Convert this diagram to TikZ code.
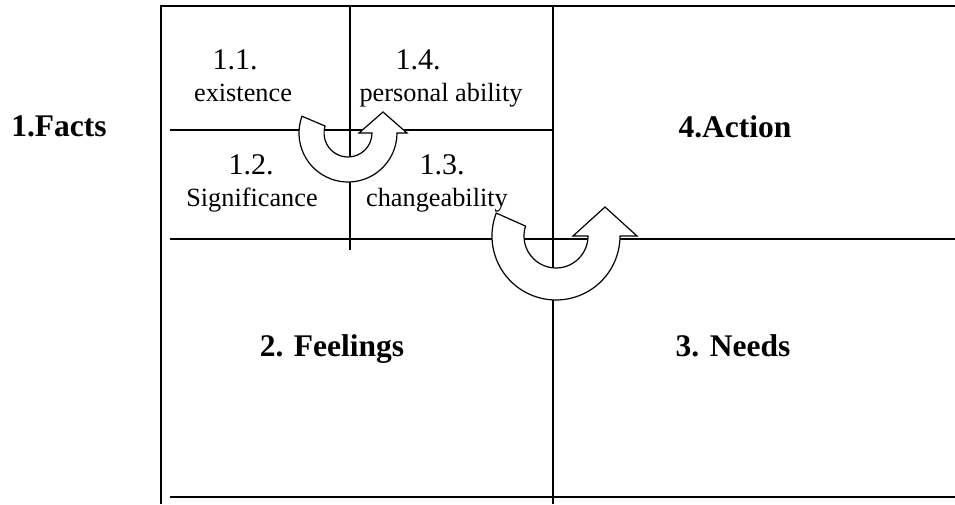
\documentclass[tikz,border=0pt]{standalone}
\usepackage{fontspec}
\setmainfont{Liberation Serif}
\begin{document}
\begin{tikzpicture}[x=1pt,y=1pt,
  grid/.style={line width=1.3pt,black},
  turn/.style={line width=1.2pt,black,fill=white,line join=miter},
  num/.style={anchor=base,inner sep=0pt,font=\fontsize{30}{30}\selectfont},
  lab/.style={anchor=base,inner sep=0pt,font=\fontsize{26.3}{26.3}\selectfont},
  head/.style={anchor=base,inner sep=0pt,font=\fontsize{31.5}{31.5}\selectfont\bfseries}]
\useasboundingbox (0,0) rectangle (955,504);
% grid
\draw[grid] (161,499) -- (161,0);
\draw[grid] (161,498) -- (955,498);
\draw[grid] (553,498) -- (553,0);
\draw[grid] (350,498) -- (350,254);
\draw[grid] (170,374) -- (553,374);
\draw[grid] (170,265) -- (955,265);
\draw[grid] (170,7) -- (955,7);
% texts
\node[head] (facts) at (59,367) {1.Facts};
\node[head] (action) at (735,366) {4.Action};
\node[head] (feel) at (332,148) {2. Feelings};
\node[head] (needs) at (733,148) {3. Needs};
\node[num] (n11) at (235,434) {1.1.};
\node[lab] (l11) at (243,402) {existence};
\node[num] (n14) at (418,434) {1.4.};
\node[lab] (l14) at (441,402) {personal ability};
\node[num] (n12) at (251,329) {1.2.};
\node[lab] (l12) at (252,297) {Significance};
\node[num] (n13) at (442,329) {1.3.};
\node[lab] (l13) at (437,297) {changeability};
% small turning arrow
\draw[turn] (348,371) ++(160:49pt) arc[start angle=160,end angle=360,radius=49pt]
  -- (407,371) -- (383,392) -- (359,371) -- (372,371)
  arc[start angle=0,end angle=-197,radius=24pt] -- cycle;
% big turning arrow
\draw[turn] (556,268) ++(159:64pt) arc[start angle=159,end angle=360,radius=64pt]
  -- (637,268) -- (605,297) -- (573,268) -- (588,268)
  arc[start angle=0,end angle=-198,radius=32pt] -- cycle;
\end{tikzpicture}
\end{document}
